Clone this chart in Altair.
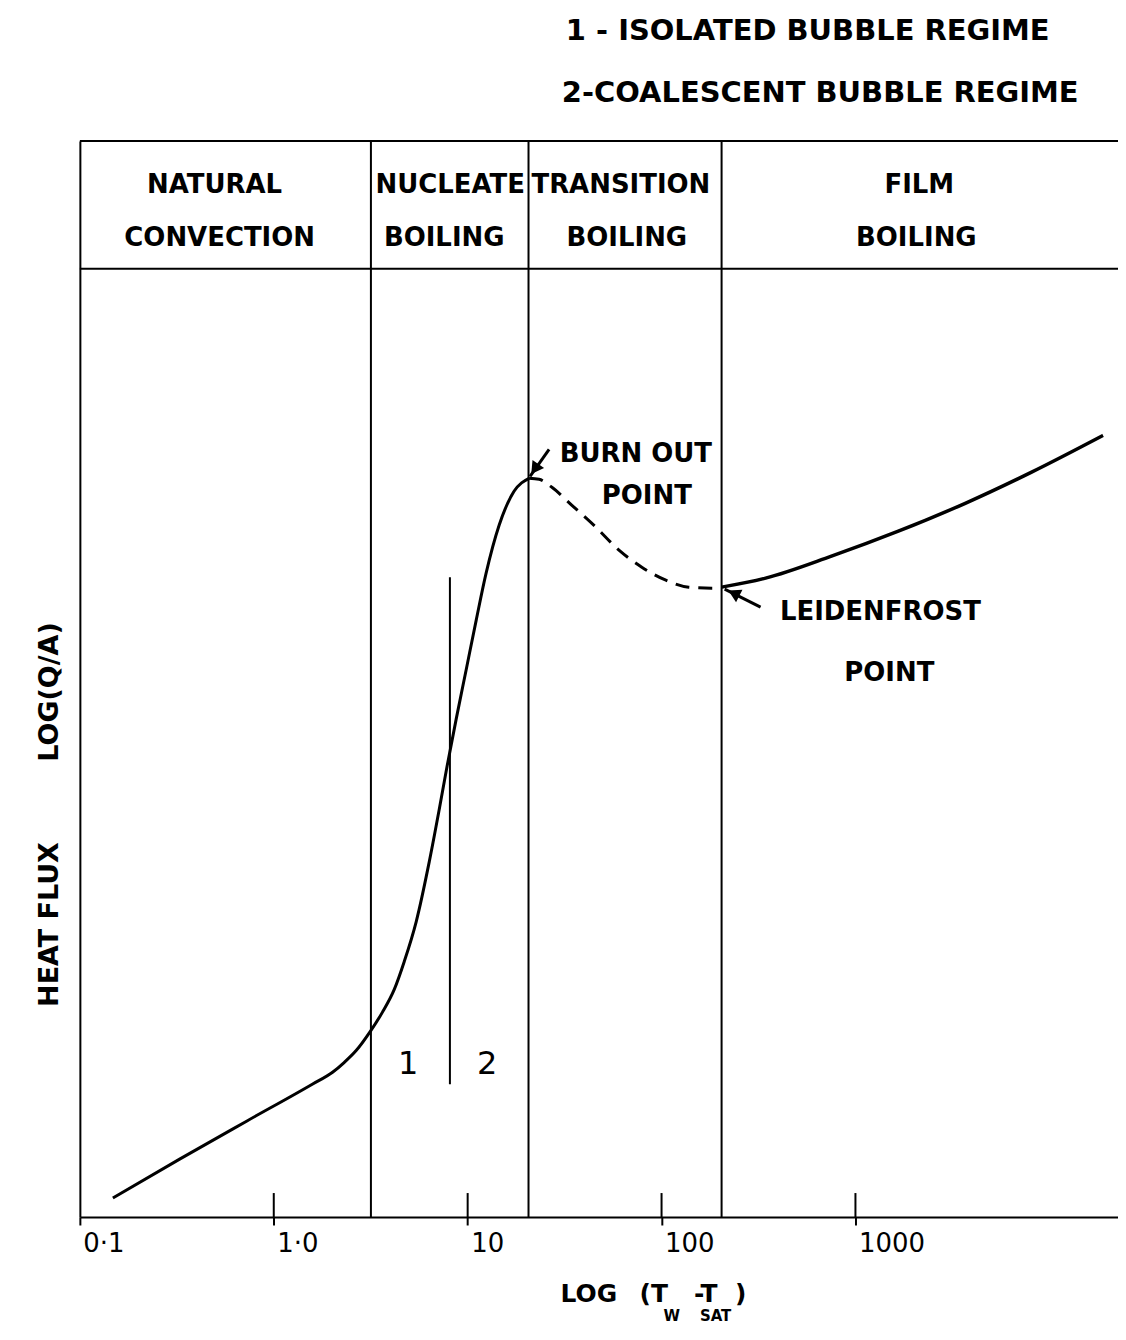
import altair as alt
import pandas as pd

# ---------------- data ----------------
X_MIN = 0.1
X_MAX = 22600
Y_TOP = 10.78
Y_BAND = 9.5

# boiling curve: natural convection + nucleate boiling (solid)
rise_x = [0.148, 0.327, 0.724, 1.58, 2.01, 2.313, 2.667, 3.148, 3.63, 4.184, 4.711,
          5.43, 6.34, 7.13, 7.84, 8.73, 9.82, 11.07, 12.45, 14.53, 17.35, 20.74]
rise_y = [0.19, 0.58, 0.96, 1.33, 1.45, 1.55, 1.67, 1.86, 2.05, 2.28, 2.56,
          2.96, 3.56, 4.08, 4.52, 4.99, 5.48, 5.98, 6.45, 6.93, 7.27, 7.40]
# transition boiling (dashed)
trans_x = [20.74, 23.35, 27.2, 34.5, 45.9, 60.3, 79.1, 105.2, 138.1, 181.5, 204.2]
trans_y = [7.40, 7.39, 7.31, 7.13, 6.91, 6.68, 6.51, 6.38, 6.31, 6.30, 6.31]
# film boiling (solid)
film_x = [204.2, 344, 752, 1664, 3683, 8054, 18920]
film_y = [6.31, 6.40, 6.62, 6.87, 7.15, 7.46, 7.83]

# regime boundaries
bound_x = [3.17, 20.6, 204]
# isolated / coalescent divider
div_x = [8.10]
div_y0 = [1.33]
div_y1 = [6.41]

# x axis ticks
tick_vals = [0.1, 1, 10, 100, 1000]
tick_labels = ["0·1", "1·0", "10", "100", "1000"]
cross_ticks = [1, 10, 100, 1000]

# header labels
hdr_text = ["NATURAL", "CONVECTION", "NUCLEATE", "BOILING",
            "TRANSITION", "BOILING", "FILM", "BOILING"]
hdr_x = [0.495, 0.526, 8.13, 7.57, 61.7, 66.2, 2135, 2061]
hdr_y = [10.34, 9.81, 10.34, 9.81, 10.34, 9.81, 10.34, 9.81]

# point annotations
ann_text = ["BURN OUT", "POINT", "LEIDENFROST", "POINT"]
ann_x = [73.7, 84.0, 1345, 1496]
ann_y = [7.64, 7.22, 6.06, 5.45]

# legend lines (top)
leg_text = ["1 - ISOLATED BUBBLE REGIME", "2-COALESCENT BUBBLE REGIME"]
leg_x = [32.1, 30.6]
leg_y = [11.88, 11.26]

# regime numbers
num_text = ["1", "2"]
num_x = [4.94, 12.6]
num_y = [1.53, 1.53]

# y title pieces
yt_text = ["HEAT FLUX", "LOG(Q/A)"]
yt_x = [0.0701, 0.0701]
yt_y = [2.93, 5.26]

# x title pieces
xt_text = ["LOG", "(T", "-T", ")"]
xt_x = [42.2, 91.2, 169, 256]
xt_y = [-0.77, -0.77, -0.77, -0.77]
xs_text = ["W", "SAT"]
xs_x = [112.9, 190]
xs_y = [-0.99, -0.99]

# arrows
arr_x0 = [26.3, 324]
arr_y0 = [7.69, 6.11]
arr_x1 = [20.98, 211.6]
arr_y1 = [7.42, 6.29]
head_x = [22.5, 241]
head_y = [7.51, 6.24]
head_ang = [215, 297]

# ---------------- encodings ----------------
FONT = "DejaVu Sans"
label_expr = ""
for v, l in zip(tick_vals, tick_labels):
    label_expr += f"abs(datum.value - {v}) < {v * 0.01} ? '{l}' : "
label_expr += "''"

xscale = alt.Scale(type="log", domain=[X_MIN, X_MAX], nice=False)
yscale = alt.Scale(domain=[0, Y_TOP], nice=False, zero=False)
xaxis = alt.Axis(values=tick_vals, labelExpr=label_expr, title=None, grid=False,
                 domainColor="black", domainWidth=2, tickColor="black", tickWidth=2,
                 tickSize=8, labelFont=FONT, labelFontSize=26, labelColor="black",
                 labelAlign="left", labelPadding=6, labelOffset=3, labelFlush=False,
                 labelOverlap=False)
yaxis = alt.Axis(labels=False, ticks=False, title=None, grid=False,
                 domainColor="black", domainWidth=2)


def X(f):
    return alt.X(f, type="quantitative", scale=xscale, axis=xaxis)


def Y(f):
    return alt.Y(f, type="quantitative", scale=yscale, axis=yaxis)


def df(**kw):
    return pd.DataFrame(kw)


rise = alt.Chart(df(x=rise_x, y=rise_y)).mark_line(
    color="black", strokeWidth=3, interpolate="monotone").encode(x=X("x"), y=Y("y"))
trans = alt.Chart(df(x=trans_x, y=trans_y)).mark_line(
    color="black", strokeWidth=3, strokeDash=[14, 9], interpolate="monotone").encode(x=X("x"), y=Y("y"))
film = alt.Chart(df(x=film_x, y=film_y)).mark_line(
    color="black", strokeWidth=3.5, interpolate="monotone").encode(x=X("x"), y=Y("y"))

bounds = alt.Chart(df(x=bound_x, y0=[0] * 3, y1=[Y_TOP] * 3)).mark_rule(
    color="black", strokeWidth=2).encode(x=X("x"), y=Y("y0"), y2="y1")
divider = alt.Chart(df(x=div_x, y0=div_y0, y1=div_y1)).mark_rule(
    color="black", strokeWidth=2).encode(x=X("x"), y=Y("y0"), y2="y1")
hlines = alt.Chart(df(x0=[X_MIN, X_MIN], x1=[X_MAX, X_MAX], y=[Y_TOP, Y_BAND])).mark_rule(
    color="black", strokeWidth=2).encode(x=X("x0"), x2="x1", y=Y("y"))
ticks_in = alt.Chart(df(x=cross_ticks, y0=[0] * 4, y1=[0.24] * 4)).mark_rule(
    color="black", strokeWidth=2).encode(x=X("x"), y=Y("y0"), y2="y1")

hdr = alt.Chart(df(t=hdr_text, x=hdr_x, y=hdr_y)).mark_text(
    font=FONT, fontSize=26, fontWeight="bold", color="black", baseline="middle").encode(
    x=X("x"), y=Y("y"), text="t")
ann = alt.Chart(df(t=ann_text, x=ann_x, y=ann_y)).mark_text(
    font=FONT, fontSize=26, fontWeight="bold", color="black", baseline="middle").encode(
    x=X("x"), y=Y("y"), text="t")
leg = alt.Chart(df(t=leg_text, x=leg_x, y=leg_y)).mark_text(
    font=FONT, fontSize=29, fontWeight="bold", color="black", baseline="middle", align="left").encode(
    x=X("x"), y=Y("y"), text="t")
nums = alt.Chart(df(t=num_text, x=num_x, y=num_y)).mark_text(
    font=FONT, fontSize=32, color="black", baseline="middle").encode(
    x=X("x"), y=Y("y"), text="t")
ytitle = alt.Chart(df(t=yt_text, x=yt_x, y=yt_y)).mark_text(
    font=FONT, fontSize=27, fontWeight="bold", color="black", baseline="middle", angle=270).encode(
    x=X("x"), y=Y("y"), text="t")
xtitle = alt.Chart(df(t=xt_text, x=xt_x, y=xt_y)).mark_text(
    font=FONT, fontSize=25, fontWeight="bold", color="black", baseline="middle").encode(
    x=X("x"), y=Y("y"), text="t")
xsub = alt.Chart(df(t=xs_text, x=xs_x, y=xs_y)).mark_text(
    font=FONT, fontSize=15, fontWeight="bold", color="black", baseline="middle").encode(
    x=X("x"), y=Y("y"), text="t")

arrows = alt.Chart(df(x0=arr_x0, y0=arr_y0, x1=arr_x1, y1=arr_y1)).mark_rule(
    color="black", strokeWidth=3).encode(x=X("x0"), y=Y("y0"), x2="x1", y2="y1")
heads = alt.Chart(df(x=head_x, y=head_y, a=head_ang)).mark_point(
    shape="triangle", filled=True, size=200, color="black", opacity=1).encode(
    x=X("x"), y=Y("y"), angle=alt.Angle("a:Q", scale=None))

chart = alt.layer(
    bounds, divider, hlines, ticks_in, rise, trans, film, arrows, heads,
    hdr, ann, leg, nums, ytitle, xtitle, xsub
).properties(
    width=1040, height=1078, autosize="none",
    padding={"left": 72, "top": 132, "right": 0, "bottom": 106},
    background="white"
).configure_view(stroke=None)

chart.save("out.html", embed_options={"renderer": "svg", "actions": False})
